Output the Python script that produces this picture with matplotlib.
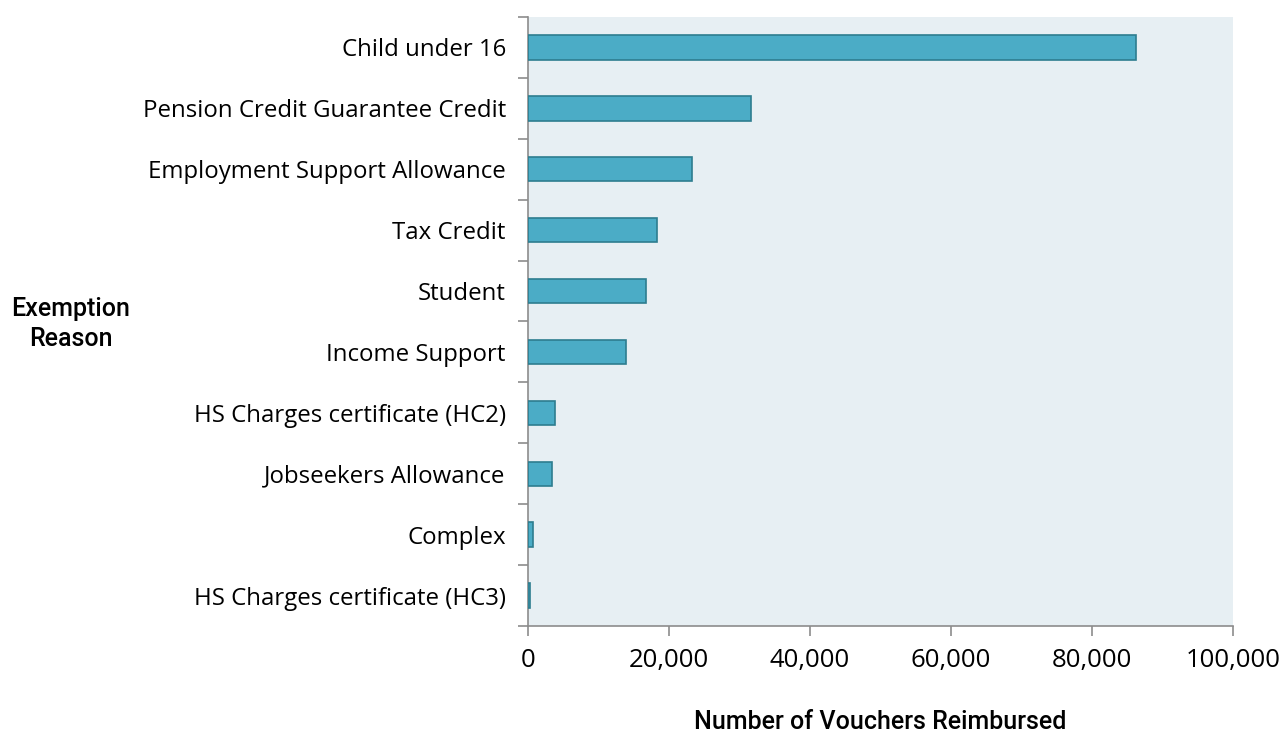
import matplotlib.pyplot as plt
from matplotlib.ticker import FuncFormatter, FixedLocator

categories = [
    "Child under 16",
    "Pension Credit Guarantee Credit",
    "Employment Support Allowance",
    "Tax Credit",
    "Student",
    "Income Support",
    "HS Charges certificate (HC2)",
    "Jobseekers Allowance",
    "Complex",
    "HS Charges certificate (HC3)",
]
vouchers = [86300, 31700, 23300, 18300, 16700, 13900, 3800, 3400, 700, 300]
x_ticks = [0, 20000, 40000, 60000, 80000, 100000]

fig = plt.figure(figsize=(12.87, 7.36), dpi=100)
ax = fig.add_axes([528 / 1287, 1 - 626 / 736, 705 / 1287, 609 / 736])
ax.set_facecolor("#E7EFF3")

n = len(categories)
ypos = list(range(n))
ax.barh(ypos, vouchers, height=0.4, color="#4BACC6", edgecolor="#2E7D8F",
        linewidth=1.2, zorder=3)
ax.set_ylim(n - 0.5, -0.5)
ax.set_xlim(0, 100000)

ax.set_yticks(ypos)
ax.set_yticklabels(categories, fontsize=17.3, family="Open Sans")
ax.tick_params(axis="y", which="major", length=0, pad=16)
ax.yaxis.set_minor_locator(FixedLocator([i - 0.5 for i in range(n + 1)]))
ax.tick_params(axis="y", which="minor", length=7, color="#8C8C8C", width=1.2)

ax.set_xticks(x_ticks)
ax.xaxis.set_major_formatter(FuncFormatter(lambda v, p: f"{int(v):,}"))
ax.tick_params(axis="x", length=7, color="#8C8C8C", width=1.2, pad=9,
               labelsize=18.5)
for lbl in ax.get_xticklabels():
    lbl.set_family("Open Sans")

for side in ("top", "right"):
    ax.spines[side].set_visible(False)
for side in ("left", "bottom"):
    ax.spines[side].set_color("#8C8C8C")
    ax.spines[side].set_linewidth(1.2)

fig.text(880 / 1287, 1 - 722 / 736, "Number of Vouchers Reimbursed",
         ha="center", va="center", fontsize=18, family="Roboto",
         weight="medium")
fig.text(71 / 1287, 1 - 324 / 736, "Exemption\nReason", ha="center",
         va="center", fontsize=18, family="Roboto", weight="medium",
         linespacing=1.35)

fig.savefig("out.png", dpi=100)
